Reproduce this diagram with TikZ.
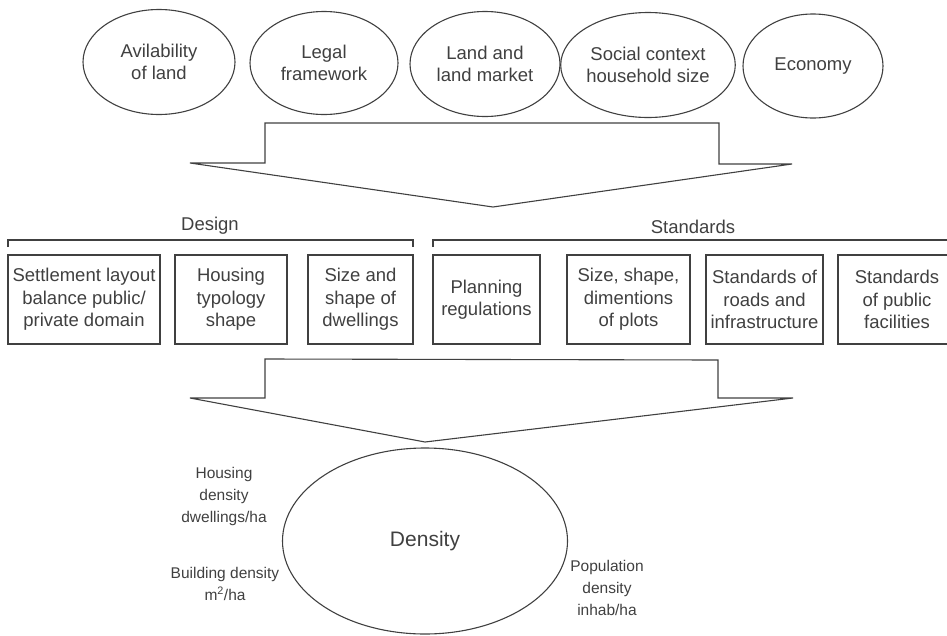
\documentclass[tikz,border=0pt]{standalone}
\usepackage{fontspec}
\setmainfont{Liberation Sans}
\usetikzlibrary{shapes.geometric}
\definecolor{inkgray}{gray}{0.25}
\tikzset{
  factor/.style={ellipse, draw=inkgray, line width=1.1pt, inner sep=0pt, align=center, text=inkgray,
    font=\fontsize{18.5}{22.5}\selectfont},
  itembox/.style={rectangle, draw=inkgray, line width=1.1pt, inner sep=0pt, align=center, text=inkgray,
    minimum height=89pt, font=\fontsize{18.5}{22.5}\selectfont},
  grouplabel/.style={text=inkgray, inner sep=0pt, font=\fontsize{18.5}{22}\selectfont},
  sidelabel/.style={text=inkgray, inner sep=0pt, align=center, font=\fontsize{15.5}{22}\selectfont},
  blockarrow/.style={draw=inkgray, line width=1.1pt, line join=miter},
  bracketline/.style={draw=inkgray, line width=1.1pt}
}
\begin{document}
\begin{tikzpicture}[x=1pt,y=-1pt]
\useasboundingbox (0,0) rectangle (947,635);
% factors
\node[factor, minimum width=152pt, minimum height=105pt] (avail) at (159,62) {Avilability\\of land};
\node[factor, minimum width=148pt, minimum height=103pt] (legal) at (324,63) {Legal\\framework};
\node[factor, minimum width=150pt, minimum height=105pt] (landm) at (485,64) {Land and\\land market};
\node[factor, minimum width=148pt, minimum height=105pt] (social) at (648,65) {Social context\\household size};
\node[factor, minimum width=140pt, minimum height=104pt] (econ) at (813,66) {Economy};
% first block arrow
\coordinate (a1) at (190,163);
\coordinate (a2) at (265,163);
\coordinate (a3) at (265,123);
\coordinate (a4) at (719,123);
\coordinate (a5) at (719,164);
\coordinate (a6) at (792,164);
\coordinate (a7) at (493,207);
\draw[blockarrow] (a1) -- (a2) -- (a3) -- (a4) -- (a5) -- (a6) -- (a7) -- cycle;
% group labels and brackets
\node[grouplabel] (design) at (210,226) {Design};
\node[grouplabel] (standards) at (693,227) {Standards};
\coordinate (d1) at (8,247);
\coordinate (d2) at (8,240);
\coordinate (d3) at (413,240);
\coordinate (d4) at (413,247);
\draw[bracketline] (d1) -- (d2) -- (d3) -- (d4);
\coordinate (s1) at (433,247);
\coordinate (s2) at (433,240);
\coordinate (s3) at (950,240);
\draw[bracketline] (s1) -- (s2) -- (s3);
% boxes
\node[itembox, minimum width=152pt] (b1) at (84,299.5) {Settlement layout\\balance public/\\private domain};
\node[itembox, minimum width=112pt] (b2) at (231,299.5) {Housing\\typology\\shape};
\node[itembox, minimum width=105pt] (b3) at (360.5,299.5) {Size and\\shape of\\dwellings};
\node[itembox, minimum width=107pt] (b4) at (486.5,299.5) {Planning\\regulations};
\node[itembox, minimum width=123pt] (b5) at (628.5,299.5) {Size, shape,\\dimentions\\of plots};
\node[itembox, minimum width=117pt] (b6) at (764.5,299.5) {Standards of\\roads and\\infrastructure};
\node[itembox, minimum width=118pt] (b7) at (897,299.5) {Standards\\of public\\facilities};
% second block arrow
\coordinate (c1) at (190,398);
\coordinate (c2) at (265,398);
\coordinate (c3) at (265,359);
\coordinate (c4) at (718,360);
\coordinate (c5) at (718,398);
\coordinate (c6) at (793,398);
\coordinate (c7) at (425,442);
\draw[blockarrow] (c1) -- (c2) -- (c3) -- (c4) -- (c5) -- (c6) -- (c7) -- cycle;
% density
\node[ellipse, draw=inkgray, line width=1.1pt, minimum width=285pt, minimum height=186pt, inner sep=0pt,
  text=inkgray, font=\fontsize{21}{24}\selectfont] (density) at (425,541) {Density};
\node[sidelabel] (housing) at (224,496) {Housing\\density\\dwellings/ha};
\node[sidelabel] (building) at (225,583.5) {Building density\\m\textsuperscript{2}/ha};
\node[sidelabel] (population) at (607,587.5) {Population\\density\\inhab/ha};
\end{tikzpicture}
\end{document}
